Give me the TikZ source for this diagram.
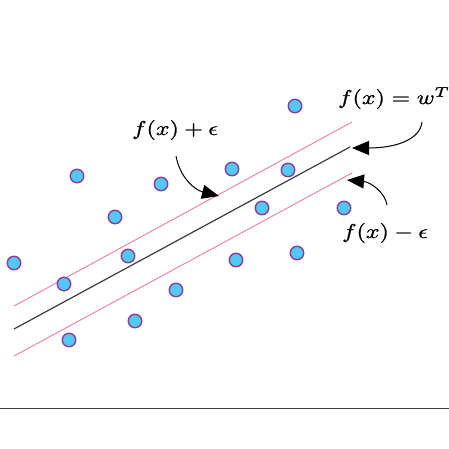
\documentclass[tikz,border=0pt]{standalone}
\usetikzlibrary{arrows.meta}
\definecolor{dotfill}{RGB}{84,200,244}
\definecolor{dotedge}{RGB}{140,60,150}
\definecolor{marg}{RGB}{240,120,170}
\definecolor{mainln}{RGB}{60,60,60}
\definecolor{axisln}{RGB}{55,62,70}
\newcommand{\eqlbl}[1]{\special{pdf:literal direct 2 Tr 0.1 w}\scalebox{2.4}[2.0]{$#1$}\special{pdf:literal direct 0 Tr}}
\tikzset{
  pt/.style={circle, draw=dotedge, fill=dotfill, line width=1.4pt, minimum size=13.5pt, inner sep=0pt},
  lbl/.style={inner sep=0pt, anchor=base west},
  callout/.style={draw=black, line width=1pt, -{Triangle[length=17pt,width=14pt]}},
  margin/.style={draw=marg, line width=0.9pt},
  hyper/.style={draw=mainln, line width=1.2pt}
}
\begin{document}
\begin{tikzpicture}[x=1pt,y=-1pt]
\useasboundingbox (0,0) rectangle (449,449);
\fill[white] (0,0) rectangle (449,449);
% axis line
\coordinate (axL) at (0,408.5);
\coordinate (axR) at (449,408.5);
\draw[axisln, line width=1.8pt] (axL) -- (axR);
% lines
\coordinate (uA) at (14,306); \coordinate (uB) at (352,122);
\coordinate (mA) at (14,329); \coordinate (mB) at (350,147);
\coordinate (lA) at (14,356); \coordinate (lB) at (352,173);
\draw[margin] (uA) -- (uB);
\draw[margin] (lA) -- (lB);
\draw[hyper] (mA) -- (mB);
% points
\node[pt] (p1) at (295,106) {};
\node[pt] (p2) at (77,176) {};
\node[pt] (p3) at (161,184) {};
\node[pt] (p4) at (232,169) {};
\node[pt] (p5) at (288,170) {};
\node[pt] (p6) at (115,217) {};
\node[pt] (p7) at (262,208) {};
\node[pt] (p8) at (344,208) {};
\node[pt] (p9) at (14,263) {};
\node[pt] (p10) at (128,256) {};
\node[pt] (p11) at (236,260) {};
\node[pt] (p12) at (297,253) {};
\node[pt] (p13) at (64,284) {};
\node[pt] (p14) at (176,290) {};
\node[pt] (p15) at (135,321) {};
\node[pt] (p16) at (69,340) {};
% labels
\node[lbl] (lp) at (132,135) {\eqlbl{f(x)+\epsilon}};
\node[lbl] (lw) at (338,104) {\eqlbl{f(x)=w^{T}}};
\node[lbl] (lm) at (342,238) {\eqlbl{f(x)-\epsilon}};
% callout arrows
\coordinate (aps) at (176,156); \coordinate (apt) at (219,196);
\coordinate (aws) at (422,122); \coordinate (awt) at (352,148);
\coordinate (ams) at (387,205); \coordinate (amt) at (347,180);
\draw[callout] (aps) .. controls (180,178) and (195,190) .. (apt);
\draw[callout] (aws) .. controls (420,140) and (395,148) .. (awt);
\draw[callout] (ams) .. controls (385,192) and (370,182) .. (amt);
\end{tikzpicture}
\end{document}
